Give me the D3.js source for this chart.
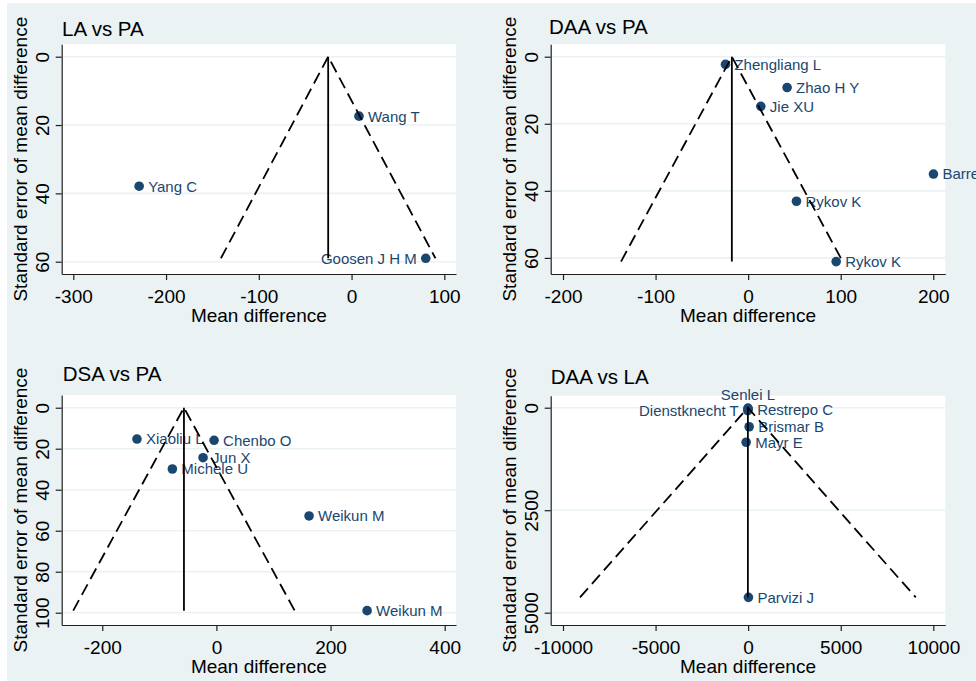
<!DOCTYPE html>
<html>
<head>
<meta charset="utf-8">
<script src="https://cdn.jsdelivr.net/npm/d3@7"></script>
<style>
  html, body { margin: 0; padding: 0; background: #ffffff; }
  svg { display: block; font-family: "Liberation Sans", Arial, sans-serif; }
</style>
</head>
<body>
<svg id="chart" width="976" height="681"></svg>
<script>
// ---- Data: one funnel plot per comparison ----
const panelTitles = ["LA vs PA", "DAA vs PA", "DSA vs PA", "DAA vs LA"];

// LA vs PA
const laPaStudies = ["Wang T", "Yang C", "Goosen J H M"];
const laPaMeanDiff = [8, -229, 80];
const laPaSE = [17.4, 37.9, 59.0];
const laPaLabelClock = [3, 3, 9];
const laPaPooled = -25.2;
const laPaXTicks = [-300, -200, -100, 0, 100];
const laPaYTicks = [0, 20, 40, 60];

// DAA vs PA
const daaPaStudies = ["Zhengliang L", "Zhao H Y", "Jie XU", "Barrett W", "Rykov K", "Rykov K"];
const daaPaMeanDiff = [-24.5, 42.1, 13.7, 200.2, 52.2, 95.1];
const daaPaSE = [2.3, 9.2, 14.8, 35.0, 43.1, 61.1];
const daaPaLabelClock = [3, 3, 3, 3, 3, 3];
const daaPaPooled = -17.6;
const daaPaXTicks = [-200, -100, 0, 100, 200];
const daaPaYTicks = [0, 20, 40, 60];

// DSA vs PA
const dsaPaStudies = ["Xiaoliu L", "Chenbo O", "Jun X", "Michele U", "Weikun M", "Weikun M"];
const dsaPaMeanDiff = [-139.2, -4.1, -23.4, -77.2, 162.3, 264];
const dsaPaSE = [15.3, 15.9, 24.4, 29.9, 52.8, 99];
const dsaPaLabelClock = [3, 3, 3, 3, 3, 3];
const dsaPaPooled = -56.9;
const dsaPaXTicks = [-200, 0, 200, 400];
const dsaPaYTicks = [0, 20, 40, 60, 80, 100];

// DAA vs LA
const daaLaStudies = ["Senlei L", "Restrepo C", "Dienstknecht T", "Brismar B", "Mayr E", "Parvizi J"];
const daaLaMeanDiff = [-10, 0, -20, 54, -108, 16];
const daaLaSE = [10, 40, 70, 464, 842, 4626];
const daaLaLabelClock = [12, 3, 9, 3, 3, 3];
const daaLaPooled = -15;
const daaLaXTicks = [-10000, -5000, 0, 5000, 10000];
const daaLaYTicks = [0, 2500, 5000];

// ---- Layout of the four graphs ----
const layouts = [
  { x0: 61.7, x1: 456, y0: 44.3, y1: 274, xDom: [-312.5, 112.6], yDom: [-3.63, 63.6], titleX: 62, titleY: 35.7 },
  { x0: 550.7, x1: 945.3, y0: 44.3, y1: 274, xDom: [-213.3, 213.0], yDom: [-3.7, 64.8], titleX: 549, titleY: 34 },
  { x0: 61.7, x1: 456, y0: 395, y1: 625, xDom: [-271.1, 419.8], yDom: [-6.2, 106], titleX: 62.7, titleY: 381.3 },
  { x0: 550.7, x1: 945.3, y0: 395.7, y1: 625, xDom: [-10664, 10648], yDom: [-293, 5300], titleX: 550.7, titleY: 384 }
];

const panels = [
  { studies: laPaStudies, md: laPaMeanDiff, se: laPaSE, clock: laPaLabelClock, pooled: laPaPooled, xTicks: laPaXTicks, yTicks: laPaYTicks },
  { studies: daaPaStudies, md: daaPaMeanDiff, se: daaPaSE, clock: daaPaLabelClock, pooled: daaPaPooled, xTicks: daaPaXTicks, yTicks: daaPaYTicks },
  { studies: dsaPaStudies, md: dsaPaMeanDiff, se: dsaPaSE, clock: dsaPaLabelClock, pooled: dsaPaPooled, xTicks: dsaPaXTicks, yTicks: dsaPaYTicks },
  { studies: daaLaStudies, md: daaLaMeanDiff, se: daaLaSE, clock: daaLaLabelClock, pooled: daaLaPooled, xTicks: daaLaXTicks, yTicks: daaLaYTicks }
];

const bgColor = "#eaf2f3";
const markerColor = "#1a476f";
const axisColor = "#1f1f1f";

const svg = d3.select("#chart");

// graph region background
svg.append("rect")
  .attr("x", 7).attr("y", 3)
  .attr("width", 976 - 7).attr("height", 681 - 3)
  .attr("fill", bgColor);

const fmt = v => String(v);

panels.forEach((p, i) => {
  const L = layouts[i];
  const g = svg.append("g");

  const x = d3.scaleLinear().domain(L.xDom).range([L.x0, L.x1]);
  const y = d3.scaleLinear().domain(L.yDom).range([L.y0, L.y1]);

  // plot region
  g.append("rect")
    .attr("x", L.x0).attr("y", L.y0)
    .attr("width", L.x1 - L.x0).attr("height", L.y1 - L.y0)
    .attr("fill", "#ffffff");

  // horizontal grid lines at the y ticks
  g.append("g").selectAll("line")
    .data(p.yTicks)
    .join("line")
    .attr("x1", L.x0).attr("x2", L.x1)
    .attr("y1", d => y(d)).attr("y2", d => y(d))
    .attr("stroke", bgColor)
    .attr("stroke-width", 1.6);

  // points
  const rows = p.studies.map((s, k) => ({ name: s, md: p.md[k], se: p.se[k], clock: p.clock[k] }));

  g.append("g").selectAll("circle")
    .data(rows)
    .join("circle")
    .attr("cx", d => x(d.md))
    .attr("cy", d => y(d.se))
    .attr("r", 4.8)
    .attr("fill", markerColor);

  // marker labels
  g.append("g").selectAll("text")
    .data(rows)
    .join("text")
    .attr("x", d => d.clock === 3 ? x(d.md) + 9 : d.clock === 9 ? x(d.md) - 9 : x(d.md))
    .attr("y", d => d.clock === 12 ? y(d.se) - 8.6 : y(d.se) + 5.4)
    .attr("text-anchor", d => d.clock === 3 ? "start" : d.clock === 9 ? "end" : "middle")
    .attr("font-size", 15)
    .attr("fill", markerColor)
    .text(d => d.name);

  // funnel: pseudo 95% limits and pooled estimate
  const seMax = d3.max(p.se);
  const lineGen = d3.line().x(d => x(d[0])).y(d => y(d[1]));
  g.append("path")
    .attr("d", lineGen([[p.pooled - 1.96 * seMax, seMax], [p.pooled, 0], [p.pooled + 1.96 * seMax, seMax]]))
    .attr("fill", "none")
    .attr("stroke", "#000")
    .attr("stroke-width", 1.8)
    .attr("stroke-dasharray", "12,6");
  g.append("path")
    .attr("d", lineGen([[p.pooled, 0], [p.pooled, seMax]]))
    .attr("fill", "none")
    .attr("stroke", "#000")
    .attr("stroke-width", 1.8);

  // x axis
  const xAxis = g.append("g")
    .attr("transform", `translate(0,${L.y1})`)
    .call(d3.axisBottom(x).tickValues(p.xTicks).tickSize(6).tickSizeOuter(0).tickFormat(fmt));
  xAxis.select(".domain").attr("stroke", axisColor).attr("stroke-width", 1.2);
  xAxis.selectAll(".tick line").attr("stroke", axisColor).attr("stroke-width", 1.2);
  xAxis.selectAll(".tick text")
    .attr("y", 29.3).attr("dy", null)
    .attr("font-size", 19)
    .attr("font-family", "Liberation Sans, Arial, sans-serif")
    .attr("fill", "#000");

  // y axis with vertical tick labels
  const yAxis = g.append("g")
    .attr("transform", `translate(${L.x0},0)`)
    .call(d3.axisLeft(y).tickValues(p.yTicks).tickSize(6).tickSizeOuter(0).tickFormat(fmt));
  yAxis.select(".domain").attr("stroke", axisColor).attr("stroke-width", 1.2);
  yAxis.selectAll(".tick line").attr("stroke", axisColor).attr("stroke-width", 1.2);
  yAxis.selectAll(".tick text")
    .attr("x", null).attr("dy", null)
    .attr("text-anchor", "middle")
    .attr("transform", "translate(-12.4,0) rotate(-90)")
    .attr("font-size", 19)
    .attr("font-family", "Liberation Sans, Arial, sans-serif")
    .attr("fill", "#000");

  // axis titles
  g.append("text")
    .attr("x", (L.x0 + L.x1) / 2)
    .attr("y", L.y1 + 48.2)
    .attr("text-anchor", "middle")
    .attr("font-size", 19)
    .attr("fill", "#000")
    .text("Mean difference");

  g.append("text")
    .attr("transform", `translate(${L.x0 - 35},${(L.y0 + L.y1) / 2}) rotate(-90)`)
    .attr("text-anchor", "middle")
    .attr("font-size", 19)
    .attr("fill", "#000")
    .text("Standard error of mean difference");

  // graph title
  g.append("text")
    .attr("x", L.titleX)
    .attr("y", L.titleY)
    .attr("font-size", 20.5)
    .attr("fill", "#000")
    .text(panelTitles[i]);
});
</script>
</body>
</html>
